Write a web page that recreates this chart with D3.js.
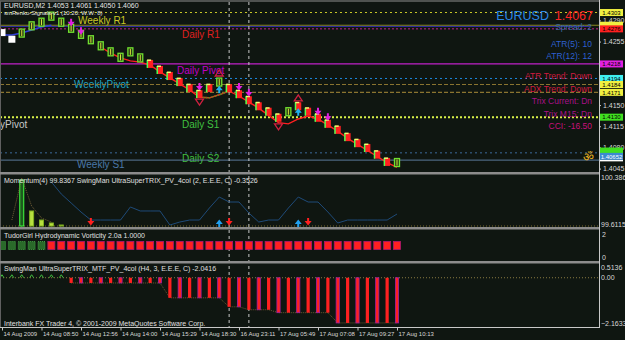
<!DOCTYPE html>
<html>
<head>
<meta charset="utf-8">
<script src="https://cdn.jsdelivr.net/npm/d3@7"></script>
<style>
  html, body { margin: 0; padding: 0; background: #0f1611; }
  svg { display: block; }
  text { font-family: "Liberation Sans", Arial, sans-serif; }
</style>
</head>
<body>
<div id="chart"></div>
<script>
// =========================================================
// EURUSD M2 renko chart, MetaTrader style (dark theme)
// =========================================================
const W = 625, H = 340;
const PR = 599;   // right edge of the plot area

// ---- data ----
const timeBars = [0, 4, 8, 12, 16, 20, 24, 28, 32, 36, 40];
const timeLabels = ['14 Aug 2009', '14 Aug 08:50', '14 Aug 12:56', '14 Aug 14:00', '14 Aug 15:29',
  '14 Aug 18:30', '16 Aug 23:11', '17 Aug 05:49', '17 Aug 07:08', '17 Aug 09:27', '17 Aug 10:13'];

// renko brick mid prices, one per bar
const bricks = [1.4269, 1.4258, 1.4269, 1.4281, 1.4287, 1.4297, 1.4287, 1.4277, 1.4267, 1.4258,
  1.4248, 1.4238, 1.4229, 1.4238, 1.4228, 1.4218, 1.4208, 1.4198, 1.4188, 1.4178,
  1.4168, 1.4178, 1.4188, 1.4178, 1.4168, 1.4158, 1.4148, 1.4139, 1.4129, 1.4139,
  1.4148, 1.4139, 1.4129, 1.4119, 1.4109, 1.4097, 1.4087, 1.4079, 1.4068, 1.4056, 1.4055];
const brickKind = ['w', 'w', 'g', 'g', 'g', 'g', 'g', 'g', 'g', 'g',
  'g', 'g', 'g', 'g', 'g', 'r', 'r', 'r', 'r', 'r',
  'r', 'r', 'g', 'r', 'r', 'r', 'r', 'r', 'r', 'g',
  'r', 'r', 'r', 'r', 'r', 'r', 'r', 'r', 'r', 'r', 'g'];

const maStart = 10;
const maLine = [1.4246, 1.4236, 1.4228, 1.4223, 1.4221, 1.4216, 1.4205, 1.4195, 1.4185, 1.4175,
  1.4163, 1.4162, 1.4167, 1.4173, 1.4165, 1.4155, 1.4145, 1.4133, 1.4121, 1.4119,
  1.4127, 1.4132, 1.4127, 1.4117, 1.4107, 1.4095, 1.4085, 1.4075, 1.4065, 1.4055, 1.4047];
const blueLine = [1.4266, 1.4266, 1.4269, 1.4274, 1.4279, 1.4282];

const levelPrices = [1.4303, 1.4282, 1.4276, 1.4218, 1.4194, 1.4184, 1.4171, 1.4130, 1.4071, 1.4059];
const levelNames = ['Weekly R1', '', 'Daily R1', 'Daily Pivot', 'WeeklyPivot', '', '', 'Daily S1', 'Daily S2', 'Weekly S1'];

const boxPrices = [1.4303, 1.4282, 1.4276, 1.4218, 1.4194, 1.4184, 1.4171, 1.4130, 1.4074, 1.40652];
const boxLabels = ['1.4303', '', '1.4276', '1.4218', '1.4194', '1.4184', '1.4171', '1.4130', '', '1.40652'];
const priceTicks = [1.4290, 1.4255, 1.4150, 1.4115, 1.4080, 1.4045];

const sigDown = [[7, 1.4286], [8, 1.4272], [20, 1.4180], [24, 1.4180], [25, 1.4170], [32, 1.4139], [33, 1.4130]];
const sigUp = [[22, 1.4176], [30, 1.4139]];
const sigV = [[20, 1.4155], [28, 1.4114]];
const sigA = [[22, 1.4203], [30, 1.4162]];

const symbol = 'EURUSD', lastPrice = '1.4067';
const infoLines = ['Spread: 2', 'ATR(5): 10', 'ATR(12): 12', 'ATR Trend: Down', 'ADX Trend: Down',
  'Trix Current: Dn', 'Trix M15: Dn', 'CCI: -16.50'];

const momStart = 5;
const momentum = [100.304, 100.106, 99.958, 99.809, 99.677, 99.677, 99.677, 99.677, 99.892, 99.826,
  99.826, 99.826, 99.595, 99.644, 99.677, 99.677, 99.875, 100.056, 99.974, 99.974,
  99.793, 99.644, 99.677, 99.677, 99.875, 100.056, 99.974, 99.974, 99.809, 99.628,
  99.677, 99.677, 99.677, 99.677, 99.677, 99.776];
const momPV = [null, 99.677, 100.370, 99.908, 99.710, 99.644];
const momHist = [null, null, 100.337, 99.826, 99.677, 99.628, 99.595];
const momBase = 99.578;
const momTicks = [100.386, 99.6115];
const momDownBars = [9, 23, 31];
const momUpBars = [22, 30];

const tudor = ['g', 'g', 'g', 'g', 'g', 'r', 'r', 'r', 'r', 'r',
  'r', 'r', 'r', 'r', 'r', 'r', 'r', 'r', 'r', 'r',
  'r', 'r', 'r', 'r', 'r', 'r', 'r', 'r', 'r', 'r',
  'r', 'r', 'r', 'r', 'r', 'r', 'r', 'r', 'r', 'r', 'r'];

const trixStart = 7;
const trix = [-0.25, -0.25, -0.25, -0.25, -0.25, -0.25, -0.25, -0.25, -0.25, -0.25,
  -0.96, -0.96, -0.96, -0.96, -0.96, -0.96, -1.39, -1.39, -1.53, -1.53,
  -1.53, -1.67, -1.67, -1.67, -1.67, -1.67, -1.67, -2.16, -2.16, -2.16,
  -2.16, -2.16, -2.16, -2.16];
const trixUpBars = [0, 1, 2, 3, 4, 5, 6];
const trixTicks = [0.5136, 0, -2.1633];

const vLineBars = [23, 25];

// ---- styles ----
const LEVEL_STYLE = [
  { stroke: '#c8c828', dash: '2 3', w: 1, fill: '#c8c828', lx: 78, dy: 11.5 },
  { stroke: '#8c8a20', dash: null, w: 1.2 },
  { stroke: '#c0208a', dash: '2 2', w: 1, fill: '#e02020', lx: 182, dy: 9.5 },
  { stroke: '#c020c8', dash: null, w: 1.2, fill: '#c000c8', lx: 177, dy: 10 },
  { stroke: '#1e88e0', dash: '2 3', w: 1, fill: '#20a8c8', lx: 74, dy: 10 },
  { stroke: '#8a7430', dash: '4 2', w: 1.2 },
  { stroke: '#8a7430', dash: '4 2', w: 1.2 },
  { stroke: '#d8f048', dash: '2 2', w: 2, fill: '#40c040', lx: 182, dy: 11 },
  { stroke: '#3c6a9a', dash: '2 3', w: 1, fill: '#40c040', lx: 182, dy: 9.5 },
  { stroke: '#5a7a9a', dash: null, w: 1, fill: '#4a78a8', lx: 77, dy: 7.5 },
];
const BOX_COLORS = ['#f0f040', '#f0f040', '#ff2020', '#e020e0', '#40f0f0', '#f0f040', '#f0f040', '#40e020', '#40e020', '#3a8ad0'];
const INFO_COLORS = ['#3a6aa0', '#2e60d0', '#2e60d0', '#d01a40', '#d01a40', '#a81088', '#a81088', '#c8107a'];
const INFO_Y = [27, 44, 56, 76, 89, 101, 114, 126];

const svg = d3.select('#chart').append('svg').attr('width', W).attr('height', H);
svg.append('rect').attr('width', W).attr('height', H).attr('fill', '#0f1611');

const x = d3.scaleLinear().domain([0, 60]).range([2, 594.5]);
const yMain = d3.scaleLinear().domain([1.4041, 1.43204]).range([171, 2]);
const yMom = d3.scaleLinear().domain([99.6115, 100.386]).range([224, 177]);
const yTG = d3.scaleLinear().domain([0, 2]).range([257, 234]);
const yTrix = d3.scaleLinear().domain([-2.1633, 0.5136]).range([323, 267]);

// ---- main panel: pivot levels ----
const lv = svg.append('g');
levelPrices.forEach((p, i) => {
  const s = LEVEL_STYLE[i];
  lv.append('line')
    .attr('x1', 0).attr('x2', PR).attr('y1', yMain(p)).attr('y2', yMain(p))
    .attr('stroke', s.stroke).attr('stroke-width', s.w)
    .attr('stroke-dasharray', s.dash);
  if (levelNames[i]) {
    lv.append('text').attr('x', s.lx).attr('y', yMain(p) + s.dy)
      .attr('fill', s.fill).style('font-size', '10px').text(levelNames[i]);
  }
});
// underline of the weekly line
lv.append('line').attr('x1', 0).attr('x2', 590)
  .attr('y1', yMain(levelPrices[1]) + 1.2).attr('y2', yMain(levelPrices[1]) + 1.2)
  .attr('stroke', '#3030a8').attr('stroke-width', 1);
lv.append('text').attr('x', 0).attr('y', yMain(levelPrices[7]) + 11)
  .attr('fill', '#c8c8c8').style('font-size', '10px').text('yPivot');

// vertical session separators
vLineBars.forEach(b => {
  svg.append('line').attr('x1', x(b)).attr('x2', x(b)).attr('y1', 2).attr('y2', 327)
    .attr('stroke', '#c8c8c8').attr('stroke-dasharray', '3 3').attr('stroke-width', 1);
});

// ---- renko bricks ----
const main = svg.append('g');
main.append('path')
  .datum(blueLine)
  .attr('fill', 'none').attr('stroke', '#3040d8').attr('stroke-width', 1.5)
  .attr('d', d3.line().x((d, i) => x(i)).y(d => yMain(d)));

main.append('path')
  .datum(maLine)
  .attr('fill', 'none').attr('stroke', '#ff2020').attr('stroke-width', 1.4)
  .attr('d', d3.line().x((d, i) => x(i + maStart)).y(d => yMain(d)));
main.append('path')
  .datum(maLine.slice(10, 14))
  .attr('fill', 'none').attr('stroke', '#5a8a20').attr('stroke-width', 1.4)
  .attr('stroke-dasharray', '2 1')
  .attr('d', d3.line().x((d, i) => x(i + maStart + 10)).y(d => yMain(d)));

bricks.forEach((p, i) => {
  const cx = x(i), cy = yMain(p), k = brickKind[i];
  const g = main.append('g').attr('transform', `translate(${cx},${cy})`);
  if (k === 'w') {
    g.append('rect').attr('x', -3.5).attr('y', -4).attr('width', 7).attr('height', 7).attr('fill', '#ffffff');
  } else if (k === 'g') {
    g.append('rect').attr('x', -2.5).attr('y', -4).attr('width', 5).attr('height', 8)
      .attr('fill', '#2a3a12').attr('stroke', '#70e030').attr('stroke-width', 1.3);
    g.append('line').attr('x1', 0).attr('x2', 0).attr('y1', -3).attr('y2', 3)
      .attr('stroke', '#d8e040').attr('stroke-width', 1);
  } else {
    g.append('rect').attr('x', -3).attr('y', -4).attr('width', 6).attr('height', 8).attr('fill', '#ff2020');
    g.append('rect').attr('x', -3.5).attr('y', -4).attr('width', 1.5).attr('height', 8).attr('fill', '#50ff50');
    g.append('rect').attr('x', -3).attr('y', -4.5).attr('width', 4).attr('height', 1.5).attr('fill', '#f8f870');
  }
});

const DOWN = 'M-1,-4h2v3h2.5l-3.5,4.5l-3.5,-4.5h2.5z';
const UP = 'M-1,4h2v-3h2.5l-3.5,-4.5l-3.5,4.5h2.5z';
sigDown.forEach(([b, p]) => main.append('path').attr('d', DOWN)
  .attr('transform', `translate(${x(b)},${yMain(p)})`).attr('fill', '#e020e0'));
sigUp.forEach(([b, p]) => main.append('path').attr('d', UP)
  .attr('transform', `translate(${x(b)},${yMain(p)})`).attr('fill', '#20b0f0'));
sigV.forEach(([b, p]) => main.append('path').attr('d', 'M-4,-3h8l-4,6z')
  .attr('transform', `translate(${x(b)},${yMain(p)})`).attr('fill', 'none').attr('stroke', '#d02040').attr('stroke-width', 1.3));
sigA.forEach(([b, p]) => main.append('path').attr('d', 'M-4,3h8l-4,-6z')
  .attr('transform', `translate(${x(b)},${yMain(p)})`).attr('fill', 'none').attr('stroke', '#d02040').attr('stroke-width', 1.3));

// ---- header texts ----
svg.append('text').attr('x', 4).attr('y', 8).attr('fill', '#e8e8e8').style('font-size', '7px')
  .text('EURUSD,M2  1.4053 1.4061 1.4050 1.4060');
svg.append('text').attr('x', 4).attr('y', 14.5).attr('fill', '#e8e8e8').style('font-size', '6px')
  .text('smRenko-Signals-v1 (10.20: W.W: 8)');

svg.append('text').attr('x', 549).attr('y', 20).attr('text-anchor', 'end')
  .attr('fill', '#2a88e8').style('font-size', '12.5px').text(symbol);
svg.append('text').attr('x', 593).attr('y', 20).attr('text-anchor', 'end')
  .attr('fill', '#ff2424').style('font-size', '12.5px').text(lastPrice);
infoLines.forEach((t, i) => {
  svg.append('text').attr('x', 592).attr('y', INFO_Y[i] + 3).attr('text-anchor', 'end')
    .attr('fill', INFO_COLORS[i]).style('font-size', '8.5px').text(t);
});
svg.append('text').attr('x', 588).attr('y', 161).attr('text-anchor', 'middle')
  .attr('fill', '#e8b020').style('font-size', '12px').text('\u0950');

// ---- momentum panel ----
const mom = svg.append('g');
mom.append('line').attr('x1', 0).attr('x2', PR).attr('y1', 226).attr('y2', 226)
  .attr('stroke', '#7a6a30').attr('stroke-dasharray', '1 2');
momHist.forEach((v, i) => {
  if (v == null) return;
  mom.append('rect').attr('x', x(i) - 2).attr('width', 4)
    .attr('y', yMom(v)).attr('height', yMom(momBase) - yMom(v))
    .attr('fill', i === 2 ? '#1e5a1e' : '#b8e040')
    .attr('stroke', i === 2 ? '#40ff40' : '#80b020').attr('stroke-width', 1);
});
mom.append('path').datum(momPV)
  .attr('fill', 'none').attr('stroke', '#8a7040').attr('stroke-width', 0.8).attr('stroke-dasharray', '1 1')
  .attr('d', d3.line().defined(d => d != null).x((d, i) => x(i)).y(d => yMom(d)));
mom.append('path').datum(momentum)
  .attr('fill', 'none').attr('stroke', '#1e4a78').attr('stroke-width', 1)
  .attr('d', d3.line().x((d, i) => x(i + momStart)).y(d => yMom(d)));
momDownBars.forEach(b => mom.append('path').attr('d', DOWN)
  .attr('transform', `translate(${x(b)},222)`).attr('fill', '#ff2020'));
momUpBars.forEach(b => mom.append('path').attr('d', UP)
  .attr('transform', `translate(${x(b)},223)`).attr('fill', '#20a0f0'));
mom.append('text').attr('x', 4).attr('y', 183).attr('fill', '#e0e0e0').style('font-size', '7px')
  .text('Momentum(4) 99.8367  SwingMan UltraSuperTRIX_PV_4col (2, E.E.E, C) -0.3526');

// ---- TudorGirl panel ----
const tg = svg.append('g');
tudor.forEach((k, i) => {
  tg.append('rect').attr('x', x(i) - 3.5).attr('y', yTG(1) - 4).attr('width', 7).attr('height', 8)
    .attr('fill', k === 'g' ? '#2a6a2a' : '#ff2020')
    .attr('stroke', k === 'g' ? '#4ab04a' : '#b01870').attr('stroke-width', 0.8)
    .attr('stroke-dasharray', k === 'g' ? '1 1' : null);
});
tg.append('text').attr('x', 4).attr('y', 238).attr('fill', '#e0e0e0').style('font-size', '7px')
  .text('TudorGirl Hydrodynamic Vorticity 2.0a 1.0000');

// ---- TRIX panel ----
const tx = svg.append('g');
tx.append('line').attr('x1', 0).attr('x2', PR).attr('y1', yTrix(0)).attr('y2', yTrix(0))
  .attr('stroke', '#8a7a40').attr('stroke-dasharray', '1 2');
tx.append('path').datum(trix)
  .attr('fill', 'none').attr('stroke', '#6a5a30').attr('stroke-dasharray', '1 1')
  .attr('d', d3.line().x((d, i) => x(i + trixStart)).y(d => yTrix(d)));
trix.forEach((v, i) => {
  const b = i + trixStart;
  tx.append('rect').attr('x', x(b) - 1.6).attr('width', 3.2)
    .attr('y', yTrix(0)).attr('height', yTrix(v) - yTrix(0))
    .attr('fill', '#ff2020')
    .attr('stroke', i % 2 ? '#a020a0' : 'none').attr('stroke-width', 0.8);
});
trixUpBars.forEach(b => tx.append('path').attr('d', 'M-2,1l2,-3l2,3')
  .attr('transform', `translate(${x(b)},${yTrix(0) - 1})`)
  .attr('fill', 'none').attr('stroke', '#40c040').attr('stroke-width', 1));
tx.append('text').attr('x', 4).attr('y', 271).attr('fill', '#e0e0e0').style('font-size', '7px')
  .text('SwingMan UltraSuperTRIX_MTF_PV_4col (H4, 3, E.E.E, C) -2.0416');
tx.append('text').attr('x', 4).attr('y', 326).attr('fill', '#e0e0e0').style('font-size', '7px')
  .text('Interbank FX Trader 4, © 2001-2009 MetaQuotes Software Corp.');

// ---- frames and separators ----
svg.append('line').attr('x1', 0).attr('x2', PR).attr('y1', 1).attr('y2', 1).attr('stroke', '#909090');
svg.append('line').attr('x1', 0.5).attr('x2', 0.5).attr('y1', 1).attr('y2', 327).attr('stroke', '#606060');
[172, 227, 261].forEach(y => svg.append('rect').attr('x', 0).attr('y', y).attr('width', PR).attr('height', 2.5).attr('fill', '#8c8c8c'));
svg.append('line').attr('x1', PR + 0.5).attr('x2', PR + 0.5).attr('y1', 0).attr('y2', 327.5).attr('stroke', '#c8c8c8');
svg.append('line').attr('x1', 0).attr('x2', PR + 1).attr('y1', 327.5).attr('y2', 327.5).attr('stroke', '#c8c8c8');

// ---- right axes ----
function styleAxis(g) {
  g.select('.domain').remove();
  g.selectAll('line').attr('stroke', '#c8c8c8');
  g.selectAll('text').attr('fill', '#d8d8d8').style('font-size', '7px')
    .style('font-family', '"Liberation Sans", Arial, sans-serif');
}
svg.append('g').attr('transform', `translate(${PR},0)`)
  .call(d3.axisRight(yMain).tickValues(priceTicks).tickFormat(d3.format('.4f')).tickSize(2).tickPadding(2))
  .call(styleAxis);
svg.append('g').attr('transform', `translate(${PR},0)`)
  .call(d3.axisRight(yMom).tickValues(momTicks).tickFormat((d, i) => ['100.386', '99.6115'][i]).tickSize(0).tickPadding(2))
  .call(styleAxis);
svg.append('g').attr('transform', `translate(${PR},0)`)
  .call(d3.axisRight(yTG).tickValues([2, 0]).tickFormat(d3.format('d')).tickSize(0).tickPadding(3))
  .call(styleAxis);
svg.append('g').attr('transform', `translate(${PR},0)`)
  .call(d3.axisRight(yTrix).tickValues(trixTicks).tickFormat(d => d === 0 ? '0.00' : d3.format('.4f')(d)).tickSize(0).tickPadding(2))
  .call(styleAxis);

// price boxes on the scale
const bx = svg.append('g');
boxPrices.forEach((p, i) => {
  const g = bx.append('g').attr('transform', `translate(${PR + 1},${yMain(p)})`);
  g.append('rect').attr('x', 0).attr('y', -3.5).attr('width', 23).attr('height', 7).attr('fill', BOX_COLORS[i]);
  if (boxLabels[i]) {
    g.append('text').attr('x', 11.5).attr('y', 2.3).attr('text-anchor', 'middle')
      .attr('fill', i === 9 ? '#ffffff' : '#000000').style('font-size', '6px').text(boxLabels[i]);
  }
});
bx.append('rect').attr('x', PR + 1).attr('y', yMain(boxPrices[9]) + 3.5).attr('width', 23).attr('height', 1.5).attr('fill', '#ffffff');

// ---- time axis ----
svg.append('g').attr('transform', 'translate(0,327.5)')
  .call(d3.axisBottom(x).tickValues(timeBars).tickFormat((d, i) => timeLabels[i]).tickSize(3).tickPadding(1))
  .call(g => {
    styleAxis(g);
    g.selectAll('text').attr('text-anchor', 'start').attr('dx', 1).style('font-size', '6px');
  });
</script>
</body>
</html>
